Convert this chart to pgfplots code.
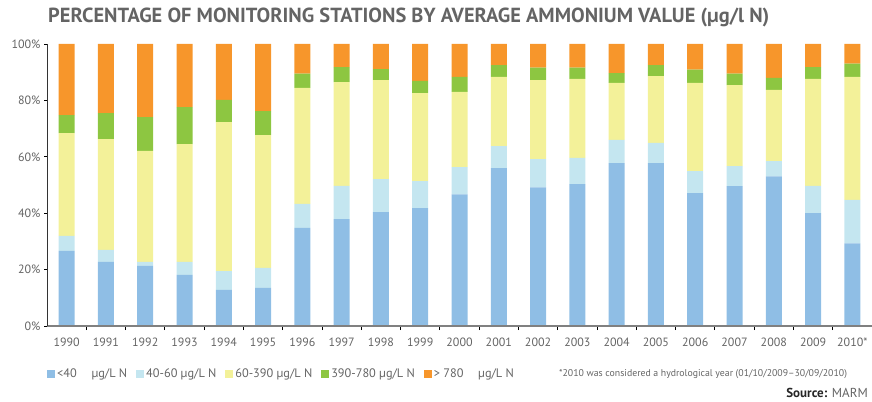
\documentclass[border=0pt]{standalone}
\usepackage{fontspec}
\setmainfont{PT Sans}
\usepackage{pgfplots}
\usepackage{pgfplotstable}
\pgfplotsset{compat=1.18}

\definecolor{cblue}{RGB}{143,190,229}
\definecolor{clight}{RGB}{196,230,240}
\definecolor{cyellow}{RGB}{243,241,153}
\definecolor{cgreen}{RGB}{141,198,65}
\definecolor{corange}{RGB}{247,150,43}
\definecolor{txtgray}{RGB}{100,100,100}
\definecolor{axgray}{RGB}{128,128,128}

% x = position (1990 -> 0), shares in percent
\pgfplotstableread{
x  a     b     c     d     e
0  26.6  5.4   36.4  6.4   25.2
1  22.7  4.3   39.3  9.2   24.5
2  21.3  1.4   39.4  12.0  25.9
3  18.1  4.6   41.8  13.1  22.4
4  12.8  6.7   52.8  7.9   19.8
5  13.5  7.1   47.1  8.5   23.8
6  34.8  8.5   41.1  5.1   10.5
7  37.9  11.8  36.8  5.3   8.2
8  40.4  11.7  35.1  3.9   8.9
9  41.8  9.6   31.2  4.3   13.1
10 46.7  9.6   26.7  5.3   11.7
11 56.0  7.8   24.5  4.2   7.5
12 49.2  10.0  28.0  4.4   8.4
13 50.3  9.3   28.0  4.0   8.4
14 57.8  8.2   20.2  3.5   10.3
15 57.8  7.1   23.7  3.9   7.5
16 47.1  7.8   31.3  4.7   9.1
17 49.6  7.1   28.7  4.1   10.5
18 53.1  5.4   25.2  4.3   12.0
19 40.0  9.7   37.9  4.2   8.2
20 29.3  15.4  43.6  4.7   7.0
}\ammonium

\pgfplotsset{sq/.style={legend image code/.code={\fill[##1,draw=none] (0bp,-4bp) rectangle (8bp,4bp);}}}

\begin{document}
\begin{tikzpicture}
\path[use as bounding box] (-47bp,-76bp) rectangle (825bp,326bp);
\begin{axis}[
  scale only axis, width=825bp, height=282bp,
  at={(0,0)}, anchor=south west,
  ybar stacked, bar width=16bp,
  xmin=-0.5, xmax=20.5, ymin=0, ymax=100,
  axis x line*=bottom, axis y line*=left,
  x axis line style={axgray, line width=2bp, -},
  y axis line style={black!80, line width=0.8bp, -},
  axis on top,
  xtick={0,...,20},
  xticklabels={1990,1991,1992,1993,1994,1995,1996,1997,1998,1999,2000,2001,2002,2003,2004,2005,2006,2007,2008,2009,2010*},
  minor xtick={0.5,1.5,...,19.5},
  major x tick style={draw=none},
  minor x tick style={black, line width=0.8bp},
  minor tick length=4bp,
  tick align=outside,
  ytick={0,20,...,100},
  yticklabel={\pgfmathprintnumber{\tick}\%},
  ytick style={black, line width=0.8bp},
  major tick length=3bp,
  tick label style={font=\fontsize{12bp}{14bp}\selectfont, text=txtgray},
  /pgf/number format/assume math mode=true,
  xticklabel style={yshift=-5bp},
  legend style={draw=none, fill=none, at={(0,-0.170)}, anchor=west,
    inner xsep=0pt, inner ysep=0pt,
    font=\fontsize{12.3bp}{14bp}\selectfont, text=txtgray,
    legend columns=5,
    /tikz/every even column/.append style={column sep=7bp}},
  legend cell align=left,
]
\addplot[fill=cblue, draw=none, sq] table[x=x, y=a] {\ammonium};
\addlegendentry{<40\hspace{1.2em}µg/L N}
\addplot[fill=clight, draw=none, sq] table[x=x, y=b] {\ammonium};
\addlegendentry{40-60 µg/L N}
\addplot[fill=cyellow, draw=none, sq] table[x=x, y=c] {\ammonium};
\addlegendentry{60-390 µg/L N}
\addplot[fill=cgreen, draw=none, sq] table[x=x, y=d] {\ammonium};
\addlegendentry{390-780 µg/L N}
\addplot[fill=corange, draw=none, sq] table[x=x, y=e] {\ammonium};
\addlegendentry{> 780\hspace{1.2em}µg/L N}
\end{axis}
\node[anchor=west, inner sep=0pt, text=txtgray, font=\fontsize{20.4bp}{24bp}\selectfont\bfseries]
  at (1bp,309bp) {PERCENTAGE OF MONITORING STATIONS BY AVERAGE AMMONIUM VALUE (µg/l N)};
\node[anchor=west, inner sep=0pt, text=txtgray, font=\fontsize{9.8bp}{11bp}\selectfont]
  at (512bp,-48bp) {*2010 was considered a hydrological year (01/10/2009–30/09/2010)};
\node[anchor=east, inner sep=0pt, text=black!85, font=\fontsize{13bp}{15bp}\selectfont]
  at (821bp,-67bp) {\textbf{Source:} \textcolor{txtgray}{MARM}};
\end{tikzpicture}
\end{document}
